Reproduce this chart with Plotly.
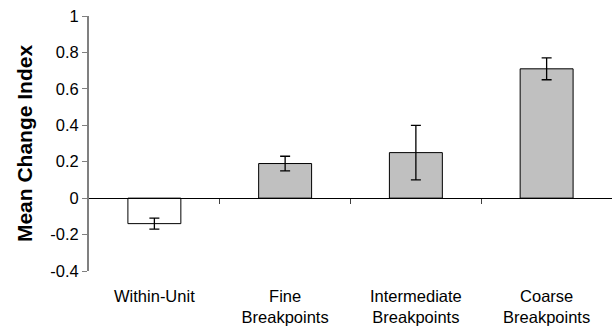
import plotly.graph_objects as go

categories = ["Within-Unit", "Fine<br>Breakpoints", "Intermediate<br>Breakpoints", "Coarse<br>Breakpoints"]
values = [-0.14, 0.19, 0.25, 0.71]
errors = [0.03, 0.04, 0.15, 0.06]
fill_colors = ["#ffffff", "#c0c0c0", "#c0c0c0", "#c0c0c0"]
y_ticks = [-0.4, -0.2, 0, 0.2, 0.4, 0.6, 0.8, 1]
y_tick_labels = ["-0.4", "-0.2", "0", "0.2", "0.4", "0.6", "0.8", "1"]
boundaries = [0.5, 1.5, 2.5]

FONT = "Liberation Sans, Arial, sans-serif"

fig = go.Figure()
fig.add_trace(go.Bar(
    x=list(range(len(categories))), y=values,
    marker=dict(color=fill_colors, line=dict(color="#000000", width=1)),
    width=0.405,
    error_y=dict(type="data", array=errors, visible=True, color="#000000", thickness=1.3, width=5),
    showlegend=False,
))
# dummy trace for the zero-line axis with boundary ticks
fig.add_trace(go.Scatter(x=[0], y=[0], xaxis="x2", mode="markers", marker=dict(opacity=0), showlegend=False, hoverinfo="skip"))

ymin, ymax = -0.4, 1.0
fig.update_layout(
    width=612, height=326,
    margin=dict(l=89, r=0, t=16, b=55, autoexpand=False),
    paper_bgcolor="white", plot_bgcolor="white",
    font=dict(family=FONT, size=16.5, color="#000000"),
    xaxis=dict(
        range=[-0.5, 3.5], tickmode="array", tickvals=list(range(len(categories))), ticktext=categories,
        showline=False, showgrid=False, zeroline=False, ticks="", ticklabelstandoff=13,
        tickfont=dict(size=16.5, family=FONT), automargin=False,
    ),
    xaxis2=dict(
        range=[-0.5, 3.5], overlaying="x", anchor="free", position=(0 - ymin) / (ymax - ymin),
        showline=True, linecolor="#000000", linewidth=1,
        tickmode="array", tickvals=boundaries, ticks="outside", ticklen=5, tickcolor="#404040", tickwidth=1,
        showticklabels=False, showgrid=False, zeroline=False,
    ),
    yaxis=dict(
        range=[ymin, ymax], tickmode="array", tickvals=y_ticks, ticktext=y_tick_labels,
        showline=True, linecolor="#808080", linewidth=2, ticks="outside", ticklen=5, tickcolor="#808080", tickwidth=1,
        showgrid=False, zeroline=False, automargin=False,
        tickfont=dict(size=16.5, family=FONT),
        title=dict(text="<b>Mean Change Index</b>", font=dict(size=21, family=FONT), standoff=12),
    ),
)

fig.write_html("out.html", config={"displayModeBar": False},
               post_script="document.body.style.margin='0px';document.body.style.overflow='hidden';")
